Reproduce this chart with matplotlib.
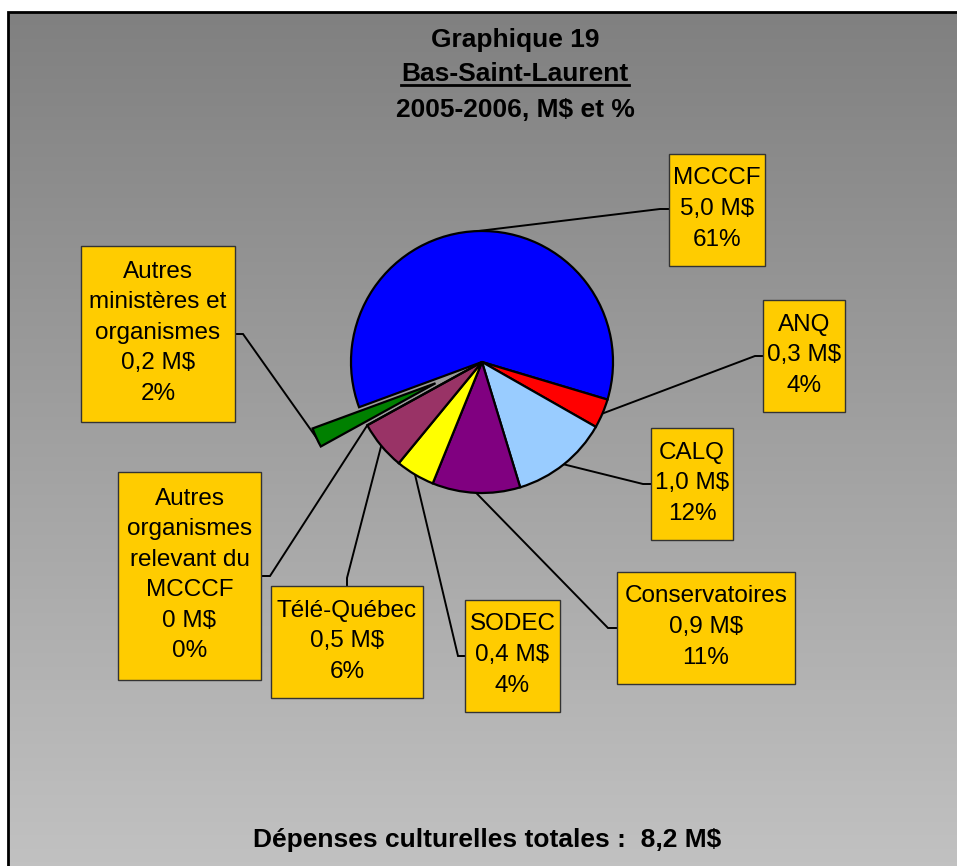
import numpy as np
import matplotlib
matplotlib.use("Agg")
import matplotlib.pyplot as plt
from matplotlib.colors import LinearSegmentedColormap
from matplotlib.patches import Rectangle

plt.rcParams['font.family'] = ['Liberation Sans', 'DejaVu Sans']

# data
categories = ['MCCCF', 'ANQ', 'CALQ', 'Conservatoires', 'SODEC', 'Télé-Québec',
              'Autres\norganismes\nrelevant du\nMCCCF', 'Autres\nministères et\norganismes']
values = [5.0, 0.3, 1.0, 0.9, 0.4, 0.5, 0.0, 0.2]
amounts = ['5,0 M$', '0,3 M$', '1,0 M$', '0,9 M$', '0,4 M$', '0,5 M$', '0 M$', '0,2 M$']
percents = ['61%', '4%', '12%', '11%', '4%', '6%', '0%', '2%']
colors = ['#0000FF', '#FF0000', '#99CCFF', '#800080', '#FFFF00', '#993366', '#808000', '#008000']
explode_frac = [0, 0, 0, 0, 0, 0, 0, 0.39]
total = '8,2 M$'

W, H = 957, 866
fig = plt.figure(figsize=(W / 100, H / 100), dpi=100)
ax = fig.add_axes([0, 0, 1, 1])

def Y(y):
    return H - y

# gradient background inside frame
cmap = LinearSegmentedColormap.from_list('bg', ['#808080', '#c2c2c2'])
grad = np.linspace(0, 1, 256).reshape(-1, 1)
ax.imshow(grad, cmap=cmap, aspect='auto', extent=[8, W + 10, Y(H + 10), Y(12)],
          origin='upper', zorder=0)
ax.add_patch(Rectangle((8, Y(H + 10)), W + 10, H - 2, fill=False,
                       edgecolor='black', lw=2, zorder=1))

# pie
cx, cy, r = 482, Y(362), 131
wedges, _ = ax.pie(values, colors=colors, startangle=200.2, counterclock=False,
                   explode=[e * r for e in explode_frac], center=(cx, cy), radius=r,
                   frame=True, wedgeprops=dict(edgecolor='black', linewidth=1.6))
for w in wedges:
    w.set_zorder(3)

# label boxes (left, top, right, bottom) and leader elbows, pixel coords from top
boxes = [(669, 154, 765, 266), (763, 300, 845, 412), (651, 428, 733, 540),
         (617, 572, 795, 684), (465, 600, 560, 712), (271, 586, 423, 698),
         (118, 472, 261, 680), (81, 246, 235, 422)]
elbows = [(660, 209), (755, 356), (643, 484), (608, 628), (458, 656),
          (347, 578), (270, 576), (243, 334)]
attach = [(669, 209), (763, 356), (651, 484), (617, 628), (465, 656),
          (347, 586), (261, 576), (235, 334)]

for i, w in enumerate(wedges):
    mid = np.deg2rad((w.theta1 + w.theta2) / 2)
    wx, wy = w.center
    px, py = wx + w.r * np.cos(mid), wy + w.r * np.sin(mid)
    ex, ey = elbows[i]
    bx, by = attach[i]
    ax.plot([px, ex, bx], [py, Y(ey), Y(by)], color='black', lw=1.4, zorder=2,
            solid_joinstyle='miter')
    x0, y0, x1, y1 = boxes[i]
    ax.add_patch(Rectangle((x0, Y(y1)), x1 - x0, y1 - y0, facecolor='#FFCC00',
                           edgecolor='#333333', lw=1, zorder=4))
    ax.text((x0 + x1) / 2, Y((y0 + y1) / 2) + 1, categories[i] + '\n' + amounts[i] + '\n' + percents[i],
            ha='center', va='center', fontsize=17.5, linespacing=1.5, zorder=5,
            multialignment='center')

# titles
ax.text(515, Y(46.7), 'Graphique 19', ha='center', va='baseline', fontsize=19,
        fontweight='bold', zorder=5)
t2 = ax.text(515, Y(80.7), 'Bas-Saint-Laurent', ha='center', va='baseline', fontsize=19,
             fontweight='bold', zorder=5)
ax.text(515, Y(116.7), '2005-2006, M$ et %', ha='center', va='baseline', fontsize=19,
        fontweight='bold', zorder=5)
ax.text(487, Y(846.7), 'Dépenses culturelles totales :  ' + total, ha='center',
        va='baseline', fontsize=19, fontweight='bold', zorder=5)

ax.set_xlim(0, W)
ax.set_ylim(0, H)
ax.set_aspect('auto')
ax.axis('off')

fig.canvas.draw()
bb = t2.get_window_extent().transformed(ax.transData.inverted())
ax.plot([bb.x0, bb.x1], [Y(85), Y(85)], color='black', lw=2, zorder=5)

fig.savefig('out.png', dpi=100, facecolor='white')
